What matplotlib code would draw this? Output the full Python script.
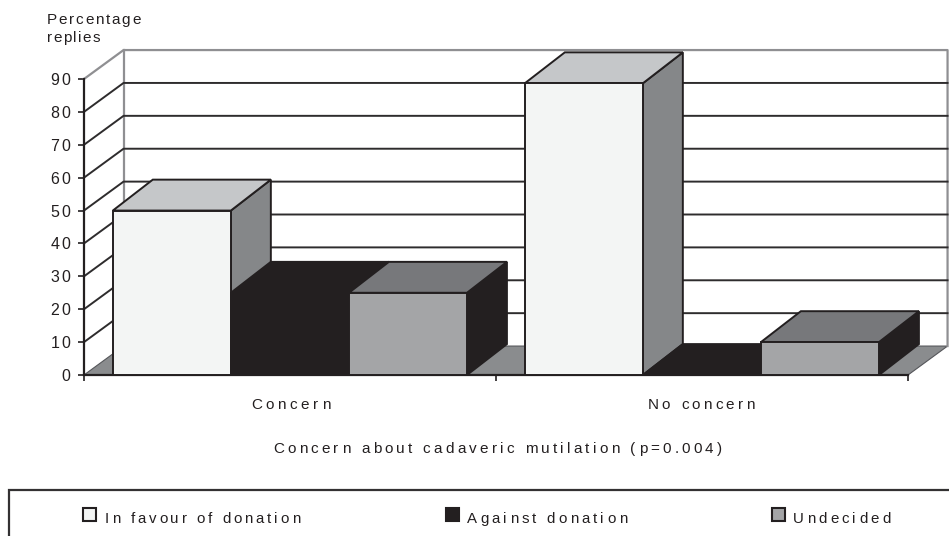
import numpy as np
import matplotlib
matplotlib.use("Agg")
import matplotlib.pyplot as plt
import matplotlib.transforms as mtransforms
from matplotlib.patches import Polygon, Rectangle
from matplotlib.text import Text

plt.rcParams['font.family'] = ['Liberation Sans', 'DejaVu Sans']

categories = ["Concern", "No concern"]
series_names = ["In favour of donation", "Against donation", "Undecided"]
in_favour = [50, 88.7]
against = [25, 0]
undecided = [25, 10]
y_ticks = [0, 10, 20, 30, 40, 50, 60, 70, 80, 90]
x_title = "Concern about cadaveric mutilation (p=0.004)"
y_title = ["Percentage", "replies"]

INK = "#231f20"
WALL_LINE = "#8f8f92"
FLOOR = "#8a8c8e"
# front, top and side colours of each series
FACES = [("#f3f5f4", "#c5c7c9", "#858789"),
         (INK, INK, INK),
         ("#a4a5a7", "#77787b", INK)]

BAR_W = 0.2865
BAR_GAP = 0.07
BAR_DX, BAR_DY = 0.097, 9.4     # depth of the bars in axis units
WALL_DX, WALL_DY = 0.096, 8.8   # depth of the walls
LW = 1.4


class SpacedText(Text):
    """Text drawn with extra tracking between the letters (px)."""

    def __init__(self, x, y, text, spacing=2.0, **kw):
        super().__init__(x, y, text, **kw)
        self.spacing = spacing

    def draw(self, renderer):
        s = self.get_text()
        prop = self.get_fontproperties()
        px, py = self.get_transform().transform(self.get_position())
        total = renderer.get_text_width_height_descent(s, prop, False)[0]
        total += self.spacing * (len(s) - 1)
        start = {"left": px, "center": px - total / 2, "right": px - total}[self.get_ha()]
        if renderer.flipy():
            py = renderer.get_canvas_width_height()[1] - py
        gc = renderer.new_gc()
        gc.set_foreground(self.get_color())
        for i, ch in enumerate(s):
            w = renderer.get_text_width_height_descent(s[:i], prop, False)[0] if i else 0
            renderer.draw_text(gc, start + w + self.spacing * i, py, ch, prop, 0)
        gc.restore()


def draw_bar(ax, x, h, faces):
    x1 = x + BAR_W
    front = [(x, 0), (x1, 0), (x1, h), (x, h)]
    top = [(x, h), (x1, h), (x1 + BAR_DX, h + BAR_DY), (x + BAR_DX, h + BAR_DY)]
    side = [(x1, 0), (x1 + BAR_DX, BAR_DY), (x1 + BAR_DX, h + BAR_DY), (x1, h)]
    for pts, col in zip((side, top, front), (faces[2], faces[1], faces[0])):
        ax.add_patch(Polygon(pts, closed=True, facecolor=col, edgecolor=INK,
                             linewidth=LW, joinstyle="miter", zorder=4, clip_on=False))


W, H = 949, 536
fig = plt.figure(figsize=(W / 100, H / 100), dpi=100)

# main axes: x in category units, y in percent
ax = fig.add_axes([84 / W, 1 - 375 / H, 824 / W, 296 / H])
ax.set_xlim(0, 2)
ax.set_ylim(0, 90)
ax.patch.set_visible(False)
for name in ("top", "right"):
    ax.spines[name].set_visible(False)
for name in ("left", "bottom"):
    ax.spines[name].set_color(INK)
    ax.spines[name].set_linewidth(1.6)
ax.set_xticks([0, 1, 2])
ax.set_yticks(y_ticks)
ax.tick_params(axis="both", length=4.3, width=1.2, color=INK, labelbottom=False, labelleft=False)

# floor and walls
ax.add_patch(Polygon([(0, 0), (2, 0), (2 + WALL_DX, WALL_DY), (WALL_DX, WALL_DY)],
                     closed=True, facecolor=FLOOR, edgecolor="#55565a", linewidth=0.8,
                     zorder=1, clip_on=False))
top = y_ticks[-1]
ax.plot([0, WALL_DX, 2 + WALL_DX, 2 + WALL_DX], [top, top + WALL_DY, top + WALL_DY, WALL_DY],
        color=WALL_LINE, lw=1.6, zorder=2, clip_on=False)
ax.plot([WALL_DX, WALL_DX], [WALL_DY, top + WALL_DY], color=WALL_LINE, lw=1.6, zorder=2, clip_on=False)
for v in y_ticks[1:-1]:
    ax.plot([0, WALL_DX, 2 + WALL_DX], [v, v + WALL_DY, v + WALL_DY],
            color="#2e2c2d", lw=LW, zorder=2, clip_on=False)

# bars, left to right so that each one overlaps the side of the previous
for i in range(len(categories)):
    values = [in_favour[i], against[i], undecided[i]]
    for j, val in enumerate(values):
        draw_bar(ax, i + BAR_GAP + j * BAR_W, val, FACES[j])

# tick labels
label_tf = mtransforms.offset_copy(ax.transData, fig=fig, x=-14, y=-6, units="dots")
for v in y_ticks:
    ax.add_artist(SpacedText(0, v, str(v), spacing=1.8, transform=label_tf, ha="right",
                             va="baseline", fontsize=11.5, color=INK, clip_on=False))

# everything outside the plot sits on an overlay in pixel coordinates
ov = fig.add_axes([0, 0, 1, 1])
ov.set_xlim(0, W)
ov.set_ylim(H, 0)
ov.axis("off")
ov.patch.set_visible(False)


def label(x, y, s, spacing, size=11.0, ha="left"):
    ov.add_artist(SpacedText(x, y, s, spacing=spacing, transform=ov.transData, ha=ha,
                             va="baseline", fontsize=size, color=INK, clip_on=False))


label(47, 24, y_title[0], 1.7)
label(47, 42, y_title[1], 1.4)
for name, cx, sp in zip(categories, (290.5, 701), (3.6, 3.2)):
    label(cx, 409, name, sp, ha="center")
label(497.5, 453, x_title, 3.25, ha="center")

# legend panel, open towards the right and bottom edges
ov.plot([9, 9, W], [H, 490, 490], color="#333132", lw=1.6, solid_joinstyle="miter", clip_on=False)
legend_box_x = [83, 446, 772]
legend_text_x = [105, 467, 793]
legend_spacing = [2.9, 3.2, 3.2]
for j, name in enumerate(series_names):
    ov.add_patch(Rectangle((legend_box_x[j], 508), 13, 13, facecolor=FACES[j][0],
                           edgecolor=INK, linewidth=1.5))
    label(legend_text_x[j], 523, name, legend_spacing[j], size=10.8)

fig.savefig("out.png", dpi=100, facecolor="white")
